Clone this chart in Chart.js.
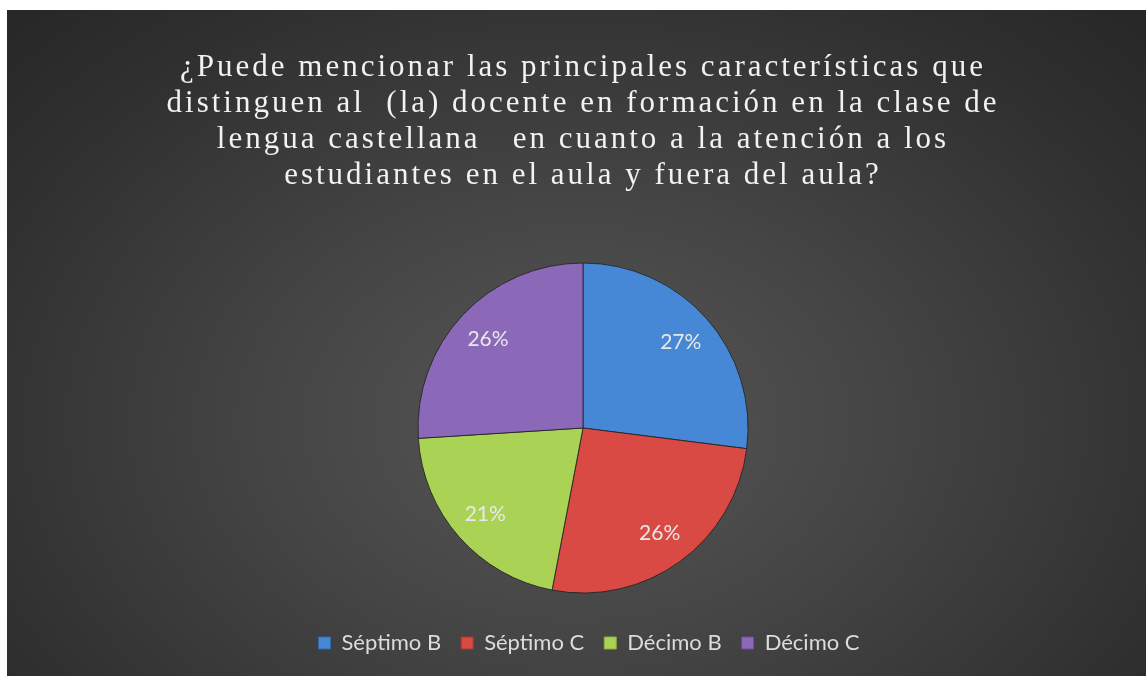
<!DOCTYPE html>
<html>
<head>
<meta charset="utf-8">
<script src="https://cdn.jsdelivr.net/npm/chart.js@4/dist/chart.umd.min.js"></script>
<style>
  html, body { margin: 0; padding: 0; background: #fff; }
  #wrap {
    position: absolute; left: 7px; top: 10px; width: 1139px; height: 666px;
    background: radial-gradient(ellipse at 50% 62%, #575757 0%, #444 40%, #2f2f2f 80%, #272727 100%);
  }
</style>
</head>
<body>
<div id="wrap"><canvas id="pieChart" width="1139" height="666"></canvas></div>
<script>
const titleLines = [
  '¿Puede mencionar las principales características que',
  'distinguen al  (la) docente en formación en la clase de',
  'lengua castellana   en cuanto a la atención a los',
  'estudiantes en el aula y fuera del aula?'
];
const categories = ['Séptimo B', 'Séptimo C', 'Décimo B', 'Décimo C'];
const values = [27, 26, 21, 26];
const topColors = ['#4788d6', '#da4a45', '#aad254', '#8c68b8'];
const bottomColors = ['#336aa8', '#b0352f', '#8eae42', '#6c4c96'];

// vertical gradient per slice, built from the pie's own bounds
function sliceFill(context) {
  const chart = context.chart;
  const arc = context.element;
  const i = context.dataIndex;
  if (!arc || !arc.outerRadius) return topColors[i];
  const g = chart.ctx.createLinearGradient(0, arc.y - arc.outerRadius, 0, arc.y + arc.outerRadius);
  g.addColorStop(0, topColors[i]);
  g.addColorStop(1, bottomColors[i]);
  return g;
}

// letter spacing for the title, small nudge for the legend
const boxTweaks = {
  id: 'boxTweaks',
  afterLayout(chart) {
    const tb = chart.titleBlock;
    if (tb && !tb._tweaked) {
      const orig = tb.draw.bind(tb);
      tb.draw = function (area) {
        const ctx = chart.ctx;
        ctx.save();
        ctx.letterSpacing = '3px';
        orig(area);
        ctx.restore();
      };
      tb._tweaked = true;
    }
    const lg = chart.legend;
    if (lg && !lg._tweaked) {
      const orig = lg.draw.bind(lg);
      lg.draw = function (area) {
        const ctx = chart.ctx;
        ctx.save();
        ctx.translate(6, 0);
        orig(area);
        ctx.restore();
      };
      lg._tweaked = true;
    }
  }
};

// percentage labels inside the slices
const sliceLabels = {
  id: 'sliceLabels',
  afterDatasetsDraw(chart) {
    const ctx = chart.ctx;
    const meta = chart.getDatasetMeta(0);
    const data = chart.data.datasets[0].data;
    const total = data.reduce((a, b) => a + b, 0);
    ctx.save();
    ctx.font = '21px Lato';
    ctx.fillStyle = '#e8e8e8';
    ctx.textAlign = 'center';
    ctx.textBaseline = 'middle';
    meta.data.forEach((arc, i) => {
      const mid = (arc.startAngle + arc.endAngle) / 2;
      const r = arc.outerRadius * 0.79;
      const pct = Math.round(data[i] / total * 100) + '%';
      ctx.fillText(pct, arc.x + Math.cos(mid) * r, arc.y + Math.sin(mid) * r);
    });
    ctx.restore();
  }
};

const ctx = document.getElementById('pieChart').getContext('2d');
new Chart(ctx, {
  type: 'pie',
  data: {
    labels: categories,
    datasets: [{
      data: values,
      backgroundColor: sliceFill,
      borderColor: 'rgba(35,35,35,0.85)',
      borderWidth: 1
    }]
  },
  options: {
    responsive: false,
    animation: false,
    radius: 165,
    layout: { padding: { left: 13, bottom: 12 } },
    plugins: {
      title: {
        display: true,
        text: titleLines,
        color: '#f2f2f2',
        font: { family: 'Liberation Serif', size: 31, weight: 'normal', lineHeight: '36px' },
        padding: { top: 40, bottom: 50 }
      },
      legend: {
        position: 'bottom',
        labels: {
          color: '#dcdcdc',
          font: { family: 'Lato', size: 22 },
          boxWidth: 12,
          boxHeight: 12,
          padding: 20,
          generateLabels(chart) {
            return categories.map((c, i) => ({
              text: c,
              fillStyle: topColors[i],
              strokeStyle: bottomColors[i],
              lineWidth: 1,
              fontColor: '#dcdcdc',
              index: i,
              hidden: false
            }));
          }
        }
      },
      tooltip: { enabled: false }
    }
  },
  plugins: [boxTweaks, sliceLabels]
});
</script>
</body>
</html>
